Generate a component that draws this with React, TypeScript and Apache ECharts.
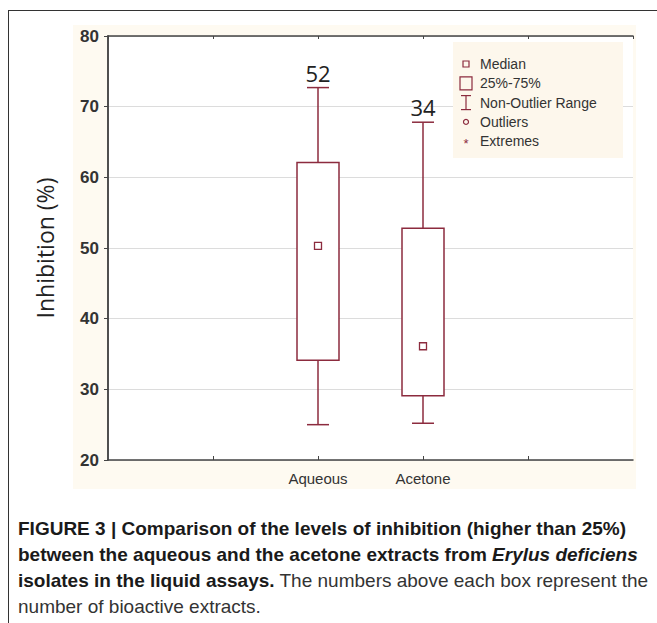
import React, { useEffect, useRef } from "react";
import * as echarts from "echarts";

const categories = ["Aqueous", "Acetone"];
const lowWhisker = [25.0, 25.2];
const q1Values = [34.1, 29.1];
const medianValues = [50.3, 36.1];
const q3Values = [62.1, 52.8];
const highWhisker = [72.7, 67.8];
const extractCounts = [52, 34];
const yTicks = [20, 30, 40, 50, 60, 70, 80];
const legendItems = ["Median", "25%-75%", "Non-Outlier Range", "Outliers", "Extremes"];

const MAROON = "#8c2b3e";

export default function App() {
  const ref = useRef<HTMLDivElement>(null);
  useEffect(() => {
    if (!ref.current) return;
    const chart = echarts.init(ref.current, undefined, { renderer: "svg" });
    const data = categories.map((c, i) => [
      i + 2,
      lowWhisker[i],
      q1Values[i],
      medianValues[i],
      q3Values[i],
      highWhisker[i],
      extractCounts[i],
    ]);
    const labelAt = (v: number) => {
      const idx = Math.round(v) - 2;
      return idx >= 0 && idx < categories.length ? categories[idx] : "";
    };
    const legendX = 466;
    const legendY0 = 64;
    const legendStep = 19.3;
    const legendGraphics: any[] = [
      {
        type: "rect",
        shape: { x: 453, y: 42, width: 170, height: 116 },
        style: { fill: "#fdf7ec" },
        z: 50,
      },
    ];
    legendItems.forEach((t, i) => {
      const cy = legendY0 + i * legendStep;
      legendGraphics.push({
        type: "text",
        x: 480,
        y: cy,
        style: {
          text: t,
          font: "14px 'Liberation Sans', Arial, sans-serif",
          fill: "#333",
          verticalAlign: "middle",
          textAlign: "left",
        },
        z: 51,
      });
    });
    legendGraphics.push(
      { type: "rect", shape: { x: legendX - 3, y: legendY0 - 3, width: 6, height: 6 }, style: { fill: "none", stroke: MAROON, lineWidth: 1.2 }, z: 51 },
      { type: "rect", shape: { x: legendX - 6, y: legendY0 + legendStep - 6.5, width: 12, height: 13 }, style: { fill: "none", stroke: MAROON, lineWidth: 1.2 }, z: 51 },
      { type: "line", shape: { x1: legendX, y1: legendY0 + 2 * legendStep - 7, x2: legendX, y2: legendY0 + 2 * legendStep + 7 }, style: { stroke: MAROON, lineWidth: 1.2 }, z: 51 },
      { type: "line", shape: { x1: legendX - 5, y1: legendY0 + 2 * legendStep - 7, x2: legendX + 5, y2: legendY0 + 2 * legendStep - 7 }, style: { stroke: MAROON, lineWidth: 1.2 }, z: 51 },
      { type: "line", shape: { x1: legendX - 5, y1: legendY0 + 2 * legendStep + 7, x2: legendX + 5, y2: legendY0 + 2 * legendStep + 7 }, style: { stroke: MAROON, lineWidth: 1.2 }, z: 51 },
      { type: "circle", shape: { cx: legendX, cy: legendY0 + 3 * legendStep, r: 2.5 }, style: { fill: "none", stroke: MAROON, lineWidth: 1.2 }, z: 51 },
      { type: "text", x: legendX, y: legendY0 + 4 * legendStep + 2, style: { text: "*", font: "13px 'Liberation Sans', Arial", fill: MAROON, textAlign: "center", verticalAlign: "middle" }, z: 51 }
    );

    const captionFont = "'Liberation Sans Narrow', 'Liberation Sans', Arial, sans-serif";
    const captionRich = {
      b: { fontFamily: captionFont, fontSize: 19, fontWeight: "bold", fill: "#1a1a1a" },
      bi: { fontFamily: captionFont, fontSize: 19, fontWeight: "bold", fontStyle: "italic", fill: "#1a1a1a" },
      r: { fontFamily: captionFont, fontSize: 19, fill: "#333" },
    };
    const captionLines = [
      "{b|FIGURE 3 | Comparison of the levels of inhibition (higher than 25%)}",
      "{b|between the aqueous and the acetone extracts from }{bi|Erylus deficiens}",
      "{b|isolates in the liquid assays.}{r| The numbers above each box represent the}",
      "{r|number of bioactive extracts.}",
    ];
    const captionGraphics = captionLines.map((t, i) => ({
      type: "text",
      x: 18,
      y: 528 + i * 26,
      style: { text: t, rich: captionRich, verticalAlign: "middle", textAlign: "left" },
    }));

    const axisLineStyle = { color: "#444", width: 1.5 };

    chart.setOption({
      animation: false,
      backgroundColor: "#fff",
      grid: {
        left: 108,
        right: 24,
        top: 36,
        bottom: 163,
        show: true,
        backgroundColor: "#fff",
        borderWidth: 0,
        z: 0,
      },
      xAxis: [
        {
          type: "value",
          min: 0,
          max: 5,
          interval: 1,
          z: 3,
          axisLine: { show: true, lineStyle: axisLineStyle },
          axisTick: { show: true, inside: true, length: 4, lineStyle: { color: "#444" } },
          splitLine: { show: false },
          axisLabel: {
            formatter: (v: number) => labelAt(v),
            color: "#333",
            fontSize: 15,
            fontFamily: "'Liberation Sans', Arial, sans-serif",
            margin: 11,
            showMinLabel: false,
            showMaxLabel: false,
          },
        },
        {
          type: "value",
          position: "top",
          min: 0,
          max: 5,
          interval: 1,
          z: 3,
          axisLine: { show: true, lineStyle: axisLineStyle },
          axisTick: { show: true, inside: true, length: 3, lineStyle: { color: "#444" } },
          axisLabel: { show: false },
          splitLine: { show: false },
        },
      ],
      yAxis: [
        {
          type: "value",
          min: 20,
          max: 80,
          interval: 10,
          z: 3,
          name: "Inhibition (%)",
          nameLocation: "middle",
          nameGap: 52,
          nameRotate: 90,
          nameTextStyle: { fontSize: 23, color: "#222", fontFamily: "'Open Sans', sans-serif" },
          axisLine: { show: true, lineStyle: axisLineStyle },
          axisTick: { show: true, inside: false, length: 4, lineStyle: { color: "#444" } },
          splitLine: { show: true, lineStyle: { color: "#dcdcdc", width: 1 } },
          axisLabel: {
            color: "#333",
            fontSize: 17,
            fontWeight: "bold",
            fontFamily: "'Liberation Sans', Arial, sans-serif",
            margin: 9,
            formatter: (v: number) => (yTicks.includes(v) ? String(v) : ""),
          },
        },
        {
          type: "value",
          position: "right",
          min: 20,
          max: 80,
          interval: 10,
          z: 3,
          axisLine: { show: true, lineStyle: axisLineStyle },
          axisTick: { show: true, inside: true, length: 4, lineStyle: { color: "#444" } },
          axisLabel: { show: false },
          splitLine: { show: false },
        },
      ],
      series: [
        {
          type: "custom",
          xAxisIndex: 0,
          yAxisIndex: 0,
          data,
          encode: { x: 0, y: [1, 2, 3, 4, 5] },
          z: 10,
          renderItem: (params: any, api: any) => {
            const x = api.value(0);
            const low = api.coord([x, api.value(1)]);
            const q1 = api.coord([x, api.value(2)]);
            const med = api.coord([x, api.value(3)]);
            const q3 = api.coord([x, api.value(4)]);
            const high = api.coord([x, api.value(5)]);
            const bw = api.size([0.4, 0])[0];
            const cw = api.size([0.21, 0])[0];
            const cx = low[0];
            const st = { stroke: MAROON, lineWidth: 1.5, fill: "none" };
            return {
              type: "group",
              children: [
                { type: "rect", shape: { x: cx - bw / 2, y: q3[1], width: bw, height: q1[1] - q3[1] }, style: { ...st, fill: "#fff" } },
                { type: "line", shape: { x1: cx, y1: q3[1], x2: cx, y2: high[1] }, style: st },
                { type: "line", shape: { x1: cx, y1: q1[1], x2: cx, y2: low[1] }, style: st },
                { type: "line", shape: { x1: cx - cw / 2, y1: high[1], x2: cx + cw / 2, y2: high[1] }, style: st },
                { type: "line", shape: { x1: cx - cw / 2, y1: low[1], x2: cx + cw / 2, y2: low[1] }, style: st },
                { type: "rect", shape: { x: cx - 3.5, y: med[1] - 3.5, width: 7, height: 7 }, style: { ...st, lineWidth: 1.3 } },
                {
                  type: "text",
                  x: cx,
                  y: high[1] - 15,
                  style: {
                    text: String(api.value(6)),
                    font: "22px 'Open Sans', sans-serif",
                    fill: "#222",
                    textAlign: "center",
                    verticalAlign: "middle",
                  },
                },
              ],
            };
          },
        },
      ],
      graphic: [
        { type: "rect", shape: { x: 73, y: 25, width: 563, height: 464 }, style: { fill: "#fefaf1" }, z: -100 },
        { type: "line", shape: { x1: 8, y1: 10.5, x2: 657, y2: 10.5 }, style: { stroke: "#333", lineWidth: 1 } },
        { type: "line", shape: { x1: 8.5, y1: 10, x2: 8.5, y2: 623 }, style: { stroke: "#333", lineWidth: 1 } },
        ...legendGraphics,
        ...captionGraphics,
      ],
    });
    return () => chart.dispose();
  }, []);
  return (
    <div
      ref={ref}
      style={{ position: "absolute", left: 0, top: 0, width: 657, height: 623 }}
    />
  );
}
